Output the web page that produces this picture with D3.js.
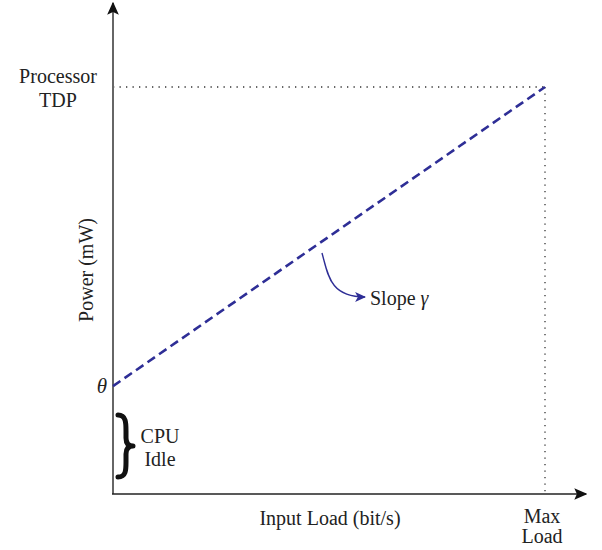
<!DOCTYPE html>
<html>
<head>
<meta charset="utf-8">
<script src="https://cdn.jsdelivr.net/npm/d3@7/dist/d3.min.js"></script>
<style>
  body { margin: 0; background: #fff; }
</style>
</head>
<body>
<div id="chart"></div>
<script>
// Normalised load (0 = idle, 1 = max load) and power (1 = processor TDP)
const loads = [0, 1];
const powers = [0.265, 1];
const idlePower = 0.265;      // θ, power drawn by the idle CPU
const tdpPower = 1;
const maxLoad = 1;
const xLabels = ["Input Load (bit/s)"];
const yLabels = ["Power (mW)"];

const width = 602, height = 550;
const origin = { x: 113, y: 494 };
const serif = "'Liberation Serif', 'DejaVu Serif', 'Times New Roman', serif";
const ink = "#222";
const blue = "#2e2e96";
const fs = 20;

const svg = d3.select("#chart").append("svg")
  .attr("width", width).attr("height", height)
  .attr("font-family", serif);

const x = d3.scaleLinear().domain([0, maxLoad]).range([origin.x, 545]);
const y = d3.scaleLinear().domain([0, tdpPower]).range([origin.y, 87]);

const defs = svg.append("defs");
defs.append("marker")
  .attr("id", "axisHead").attr("viewBox", "0 0 10 10")
  .attr("refX", 9).attr("refY", 5)
  .attr("markerWidth", 13).attr("markerHeight", 13)
  .attr("markerUnits", "userSpaceOnUse")
  .attr("orient", "auto")
  .append("path").attr("d", "M0,0.5 L10,5 L0,9.5 L2,5 Z").attr("fill", "#111");
defs.append("marker")
  .attr("id", "slopeHead").attr("viewBox", "0 0 10 10")
  .attr("refX", 9).attr("refY", 5)
  .attr("markerWidth", 11).attr("markerHeight", 11)
  .attr("markerUnits", "userSpaceOnUse")
  .attr("orient", "auto")
  .append("path").attr("d", "M0,0.5 L10,5 L0,9.5 L2.5,5 Z").attr("fill", blue);

// Reference guides: TDP level and max load
svg.append("line")
  .attr("x1", x(0)).attr("x2", x(maxLoad))
  .attr("y1", y(tdpPower)).attr("y2", y(tdpPower))
  .attr("stroke", "#333").attr("stroke-width", 1.3)
  .attr("stroke-dasharray", "1.3,5.2");
svg.append("line")
  .attr("x1", x(maxLoad)).attr("x2", x(maxLoad))
  .attr("y1", y(tdpPower)).attr("y2", y(0))
  .attr("stroke", "#333").attr("stroke-width", 1.3)
  .attr("stroke-dasharray", "1.3,5.2");

// Axes with arrowheads
svg.append("line")
  .attr("x1", x(0)).attr("y1", y(0))
  .attr("x2", x(0)).attr("y2", 3)
  .attr("stroke", "#666").attr("stroke-width", 2)
  .attr("marker-end", "url(#axisHead)");
svg.append("line")
  .attr("x1", x(0) - 1).attr("y1", y(0))
  .attr("x2", 586).attr("y2", y(0))
  .attr("stroke", "#222").attr("stroke-width", 1.6)
  .attr("marker-end", "url(#axisHead)");

// Linear power model
const line = d3.line().x((d, i) => x(loads[i])).y(d => y(d));
svg.append("path")
  .datum(powers)
  .attr("d", line)
  .attr("fill", "none")
  .attr("stroke", blue)
  .attr("stroke-width", 2.6)
  .attr("stroke-dasharray", "9,5");

// Slope annotation arrow
const sx = 322, sy = 253;
svg.append("path")
  .attr("d", `M${sx},${sy} C${sx + 6},${sy + 22} ${sx + 8},${sy + 44} ${sx + 43},${sy + 44}`)
  .attr("fill", "none").attr("stroke", blue).attr("stroke-width", 1.4)
  .attr("marker-end", "url(#slopeHead)");
const slope = svg.append("text")
  .attr("x", 370).attr("y", 305)
  .attr("font-size", fs).attr("fill", ink);
slope.append("tspan").text("Slope ");
slope.append("tspan").attr("font-style", "italic").text("γ");

// Text labels
svg.append("text")
  .attr("x", 102).attr("y", 393)
  .attr("text-anchor", "middle").attr("font-size", 21)
  .attr("font-style", "italic").attr("fill", ink).text("θ");

const tdp = svg.append("text").attr("text-anchor", "middle").attr("font-size", fs).attr("fill", ink);
tdp.append("tspan").attr("x", 58).attr("y", 83).text("Processor");
tdp.append("tspan").attr("x", 58).attr("y", 107).text("TDP");

const ml = svg.append("text").attr("text-anchor", "middle").attr("font-size", fs).attr("fill", ink);
ml.append("tspan").attr("x", 542).attr("y", 523).text("Max");
ml.append("tspan").attr("x", 542).attr("y", 543).text("Load");

svg.append("text")
  .attr("x", 330).attr("y", 525)
  .attr("text-anchor", "middle").attr("font-size", fs).attr("fill", ink)
  .text(xLabels[0]);

svg.append("text")
  .attr("transform", "translate(93,270) rotate(-90)")
  .attr("text-anchor", "middle").attr("font-size", fs).attr("fill", ink)
  .text(yLabels[0]);

// Idle brace
svg.append("path")
  .attr("d", "M118,415 C126,415 126,423 126,431 L126,438 C126,443 128,446 133,446 " +
             "C128,446 126,449 126,454 L126,462 C126,470 126,477 118,477")
  .attr("fill", "none").attr("stroke", "#111").attr("stroke-width", 5)
  .attr("stroke-linejoin", "round").attr("stroke-linecap", "round");
const idle = svg.append("text").attr("text-anchor", "middle").attr("font-size", fs).attr("fill", ink);
idle.append("tspan").attr("x", 160).attr("y", 443).text("CPU");
idle.append("tspan").attr("x", 160).attr("y", 466).text("Idle");
</script>
</body>
</html>
